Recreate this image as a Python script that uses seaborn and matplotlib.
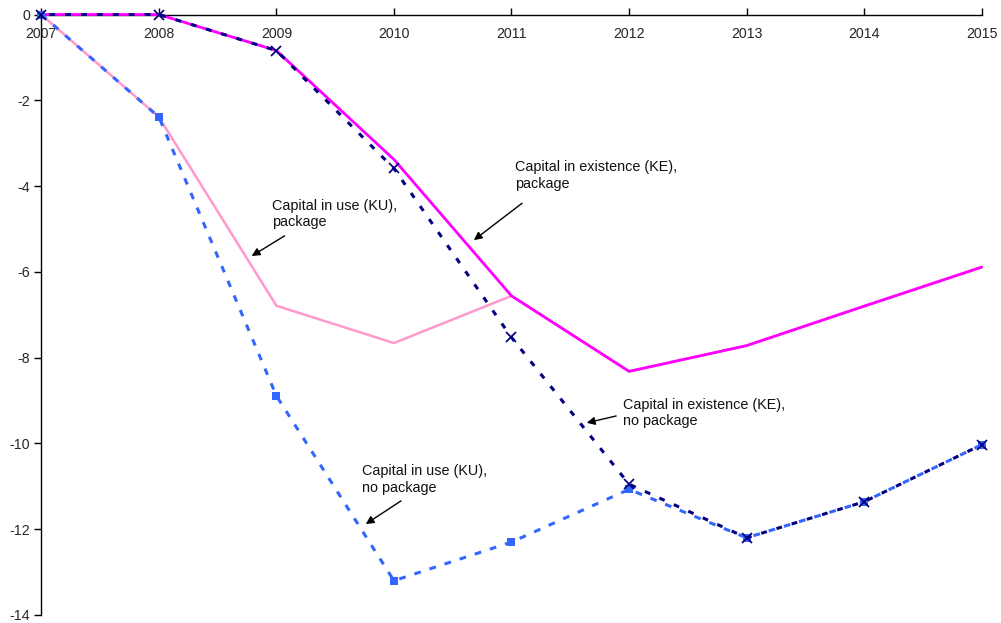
import matplotlib
matplotlib.use("Agg")
import matplotlib.pyplot as plt
import seaborn as sns
import pandas as pd

sns.set_theme(style="white")
plt.rcParams["font.family"] = ["Liberation Sans", "DejaVu Sans"]

years = [2007, 2008, 2009, 2010, 2011, 2012, 2013, 2014, 2015]
ku_package = [0.0, -2.39, -6.79, -7.66, -6.56, -8.32, -7.72, -6.80, -5.89]
ke_package = [0.0, 0.0, -0.84, -3.38, -6.56, -8.32, -7.72, -6.80, -5.89]
ku_no_package = [0.0, -2.39, -8.89, -13.20, -12.30, -11.07, -12.20, -11.36, -10.03]
ke_no_package = [0.0, 0.0, -0.84, -3.59, -7.53, -10.95, -12.20, -11.36, -10.03]
y_ticks = [0, -2, -4, -6, -8, -10, -12, -14]

fig = plt.figure(figsize=(10.01, 6.23), dpi=100)
ax = fig.add_axes([41.3 / 1001, 1 - 615 / 623, (981.7 - 41.3) / 1001, (615 - 14.5) / 623])

sns.lineplot(x=years, y=ku_package, ax=ax, color="#FF99CC", linewidth=1.8)
sns.lineplot(x=years, y=ke_package, ax=ax, color="#FF00FF", linewidth=2.0)
sns.lineplot(x=years, y=ku_no_package, ax=ax, color="#3366FF", linewidth=2.2,
             marker="s", markersize=6, markeredgewidth=0)
ax.lines[-1].set_linestyle((0, (2.2, 3.0)))
sns.lineplot(x=years, y=ke_no_package, ax=ax, color="#000080", linewidth=2.2,
             marker="x", markersize=6.5, markeredgewidth=1.25,
             markeredgecolor="#000080")
ax.lines[-1].set_linestyle((2.6, (1.9, 3.3)))
for ln in ax.lines:
    ln.set_clip_on(False)
    ln.set_dash_capstyle("butt")

ax.set_xlim(2007, 2015)
ax.set_ylim(-14, 0)
ax.set_xticks(years)
ax.set_xticklabels([str(y) for y in years])
ax.set_yticks(y_ticks)
ax.set_yticklabels([str(t) for t in y_ticks])

ax.spines["bottom"].set_position(("data", 0))
ax.spines["bottom"].set_zorder(0.5)
ax.spines["top"].set_visible(False)
ax.spines["right"].set_visible(False)
for s in ("bottom", "left"):
    ax.spines[s].set_color("black")
    ax.spines[s].set_linewidth(1.0)
ax.tick_params(axis="x", direction="in", length=5, width=1, color="black",
               labelsize=10.2, pad=9, bottom=True)
ax.tick_params(axis="y", direction="out", length=5, width=1, color="black",
               labelsize=10.2, pad=3, left=True)
ax.grid(False)
ax.set_xlabel("")
ax.set_ylabel("")

notes = [
    ("Capital in existence (KE),\npackage", (2011.03, -3.40), (2011.09, -4.40), (2010.68, -5.26)),
    ("Capital in use (KU),\npackage", (2008.96, -4.29), (2009.07, -5.16), (2008.79, -5.63)),
    ("Capital in existence (KE),\nno package", (2011.95, -8.93), (2011.89, -9.36), (2011.64, -9.52)),
    ("Capital in use (KU),\nno package", (2009.73, -10.49), (2010.06, -11.34), (2009.76, -11.88)),
]
for text, pos, tail, head in notes:
    ax.text(pos[0], pos[1], text, ha="left", va="top", fontsize=10.4, color="#111111",
            linespacing=1.25)
    ax.annotate("", xy=head, xytext=tail,
                arrowprops=dict(arrowstyle="-|>", color="black", lw=1.0,
                                mutation_scale=12, shrinkA=0, shrinkB=0))

fig.savefig("out.png", dpi=100)
